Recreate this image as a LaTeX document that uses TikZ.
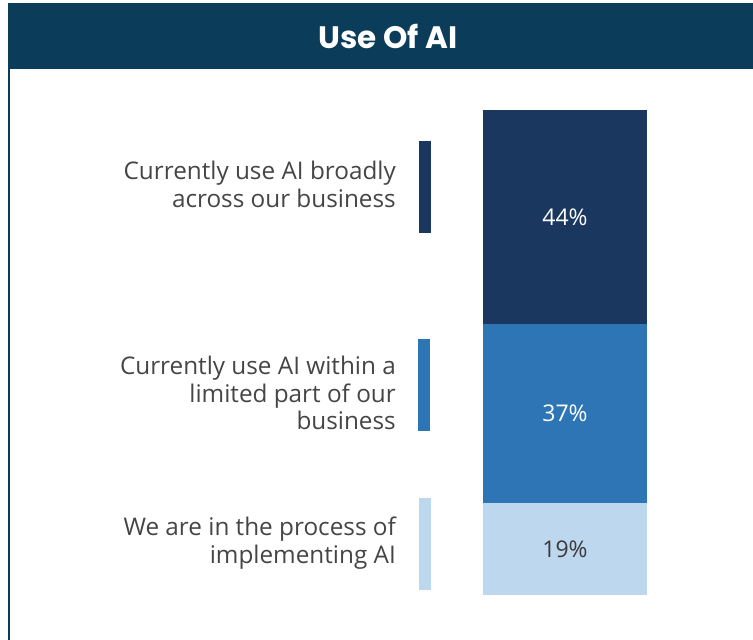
\documentclass[tikz,border=0pt]{standalone}
\usepackage{fontspec}
\setmainfont{Open Sans}
\newfontfamily\titlefont{Poppins}
\definecolor{titleblue}{HTML}{0B3C5A}
\definecolor{darkbar}{HTML}{19375F}
\definecolor{midbar}{HTML}{2E75B6}
\definecolor{lightbar}{HTML}{BDD7EE}
\definecolor{labelgray}{HTML}{454545}
\definecolor{pcgray}{HTML}{3A3A3A}

\begin{document}
\begin{tikzpicture}[x=1pt,y=-1pt]
	\tikzstyle{barpart} = [rectangle,inner sep=0pt,minimum width=164pt,font=\fontsize{23}{27}\selectfont]
	\tikzstyle{keybar} = [rectangle,inner sep=0pt,minimum width=12pt,minimum height=92pt]
	\tikzstyle{answer} = [anchor=east,align=right,inner sep=0pt,text=labelgray,font=\fontsize{24.3}{27.8}\selectfont]
	\useasboundingbox (0,0) rectangle (753,640);
	% header
	\fill[titleblue] (8,3) rectangle (753,69);
	\node[text=white,font=\titlefont\bfseries\fontsize{31}{36}\selectfont] (title) at (388,36) {Use Of AI};
	\draw[titleblue,line width=2pt] (9,69) -- (9,640);
	% stacked bar
	\foreach \n/\yc/\h/\col/\txt/\tcol in {1/217/214/darkbar/44\%/white, 2/413.5/179/midbar/37\%/white, 3/549/92/lightbar/19\%/pcgray}
		\node[barpart,fill=\col,minimum height=\h pt,text=\tcol] (part\n) at (565,\yc) {\txt};
	% legend keys
	\foreach \n/\x/\yc/\col in {1/425/187/darkbar, 2/423.5/385/midbar, 3/425/544/lightbar}
		\node[keybar,fill=\col] (key\n) at (\x,\yc) {};
	% legend texts
	\node[answer] (answer1) at (396,184) {Currently use AI broadly\\across our business};
	\node[answer] (answer2) at (396,393) {Currently use AI within a\\limited part of our\\business};
	\node[answer] (answer3) at (396,543) {We are in the process of\\implementing AI};
\end{tikzpicture}
\end{document}
